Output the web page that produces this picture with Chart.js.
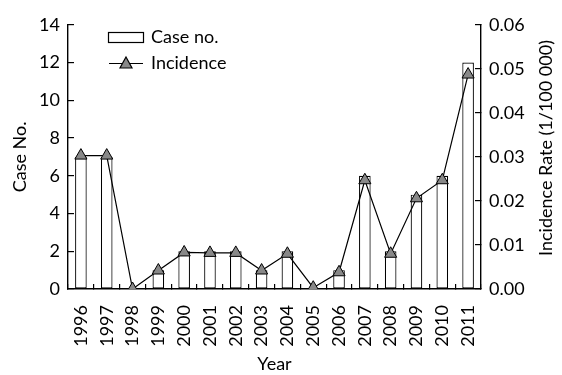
<!DOCTYPE html>
<html>
<head>
<meta charset="utf-8">
<script src="https://cdn.jsdelivr.net/npm/chart.js@4"></script>
<style>
  html, body { margin: 0; padding: 0; background: #fff; }
  #wrap { width: 562px; height: 375px; }
</style>
</head>
<body>
<div id="wrap"><canvas id="grafico" width="562" height="375"></canvas></div>
<script>
const anos = ["1996","1997","1998","1999","2000","2001","2002","2003","2004","2005","2006","2007","2008","2009","2010","2011"];
const casos = [7, 7, 0, 1, 2, 2, 2, 1, 2, 0, 1, 6, 2, 5, 6, 12];
const incidencia = [0.0303, 0.0303, 0, 0.0042, 0.0083, 0.0082, 0.0082, 0.0042, 0.0080, 0.0003, 0.0038, 0.0247, 0.0080, 0.0206, 0.0247, 0.0487];

const fonte = "Lato";
const tam = 18;

// legenda e titulo do eixo direito desenhados a mao
const legendaPlugin = {
  id: "legendaInterna",
  afterDraw(c) {
    const ctx = c.ctx;
    ctx.save();
    ctx.lineWidth = 1.2;
    ctx.strokeStyle = "#000";
    ctx.fillStyle = "#fff";
    ctx.fillRect(108.5, 32.5, 35, 10);
    ctx.strokeRect(108.5, 32.5, 35, 10);
    ctx.beginPath();
    ctx.moveTo(109, 63.5);
    ctx.lineTo(143, 63.5);
    ctx.stroke();
    ctx.beginPath();
    ctx.moveTo(126, 57);
    ctx.lineTo(132, 68);
    ctx.lineTo(120, 68);
    ctx.closePath();
    ctx.fillStyle = "#888";
    ctx.fill();
    ctx.stroke();
    ctx.fillStyle = "#000";
    ctx.font = tam + "px " + fonte;
    ctx.textBaseline = "middle";
    ctx.fillText("Case no.", 151, 37);
    ctx.fillText("Incidence", 151, 63);

    ctx.translate(546, 148);
    ctx.rotate(-Math.PI / 2);
    ctx.textAlign = "center";
    ctx.fillText("Incidence Rate (1/100 000)", 0, 0);
    ctx.restore();
  }
};

const ctx = document.getElementById("grafico").getContext("2d");
new Chart(ctx, {
  type: "bar",
  data: {
    labels: anos,
    datasets: [
      {
        type: "line",
        label: "Incidence",
        data: incidencia,
        yAxisID: "y1",
        borderColor: "#000",
        borderWidth: 1.2,
        pointStyle: "triangle",
        pointRadius: 7,
        pointBackgroundColor: "#888",
        pointBorderColor: "#000",
        pointBorderWidth: 1,
        tension: 0,
        order: 0
      },
      {
        label: "Case no.",
        data: casos,
        yAxisID: "y",
        backgroundColor: "#fff",
        borderColor: "#000",
        borderWidth: 1.2,
        borderSkipped: false,
        categoryPercentage: 1,
        barPercentage: 0.45,
        order: 1
      }
    ]
  },
  options: {
    responsive: false,
    animation: false,
    layout: { padding: { top: 15, left: 0, right: 0, bottom: 0 } },
    plugins: { legend: { display: false }, tooltip: { enabled: false } },
    scales: {
      x: {
        offset: true,
        grid: { offset: true, drawOnChartArea: false, tickLength: -5, color: "#000", lineWidth: 1.2 },
        border: { color: "#000", width: 1.4 },
        ticks: { color: "#000", font: { family: fonte, size: tam }, minRotation: 90, maxRotation: 90, padding: 21, autoSkip: false },
        title: { display: true, text: "Year", color: "#000", font: { family: fonte, size: tam }, padding: { top: 0, bottom: 0 } },
        afterFit(s) { s.height = 86; }
      },
      y: {
        position: "left",
        min: 0, max: 14,
        grid: { drawOnChartArea: false, tickLength: -6, color: "#000", lineWidth: 1.2 },
        border: { color: "#000", width: 1.4 },
        ticks: { stepSize: 2, color: "#000", font: { family: fonte, size: tam }, padding: 14 },
        title: { display: true, text: "Case No.", color: "#000", font: { family: fonte, size: tam }, padding: { top: 9, bottom: 0 } },
        afterFit(s) { s.width = 68; }
      },
      y1: {
        position: "right",
        min: 0, max: 0.06,
        grid: { drawOnChartArea: false, tickLength: -6, color: "#000", lineWidth: 1.2 },
        border: { color: "#000", width: 1.4 },
        ticks: { stepSize: 0.01, color: "#000", font: { family: fonte, size: tam }, padding: 14,
          callback: v => v.toFixed(2) },
        afterFit(s) { s.width = 81; }
      }
    }
  },
  plugins: [legendaPlugin]
});
</script>
</body>
</html>
